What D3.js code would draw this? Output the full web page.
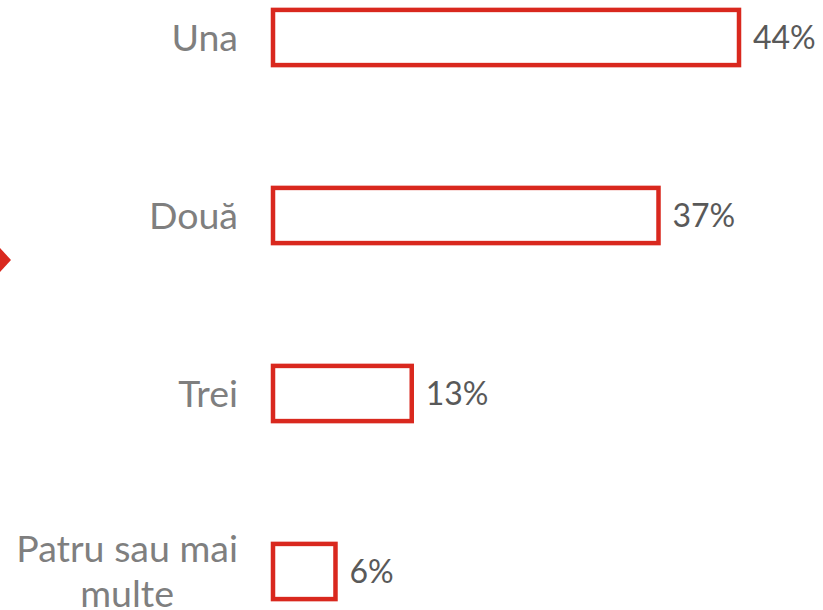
<!DOCTYPE html>
<html>
<head>
<meta charset="utf-8">
<script src="https://cdn.jsdelivr.net/npm/d3@7"></script>
<style>
  body { margin: 0; background: #fff; }
  svg { display: block; font-family: Lato, "Open Sans", sans-serif; }
</style>
</head>
<body>
<div id="chart"></div>
<script>
const categories = [["Una"], ["Două"], ["Trei"], ["Patru sau mai", "multe"]];
const values = [44, 36.4, 13.1, 5.9];
const valueLabels = ["44%", "37%", "13%", "6%"];

const width = 823, height = 610;
const red = "#d9281e";

let svg = d3.select("#chart")
    .append("svg")
    .attr("width", width)
    .attr("height", height);

let names = categories.map(c => c.join(" "));

let x = d3.scaleLinear()
    .domain([0, 44])
    .range([273, 739]);

let y = d3.scaleBand()
    .domain(names)
    .range([-51.5, -51.5 + 4 * 178])
    .paddingInner(0.69)
    .paddingOuter(0.345);

const data = names.map((n, i) => ({ name: n, lines: categories[i], value: values[i], label: valueLabels[i] }));

// small red marker cut off at the left edge
svg.append("path")
    .attr("d", "M-12,260 L0,248 L11,260 L0,272 Z")
    .attr("fill", red);

svg.selectAll("rect.bar")
    .data(data)
    .enter()
    .append("rect")
    .attr("class", "bar")
    .attr("x", x(0))
    .attr("y", d => y(d.name))
    .attr("width", d => x(d.value) - x(0))
    .attr("height", y.bandwidth())
    .attr("fill", "#fff")
    .attr("stroke", red)
    .attr("stroke-width", 4.5);

svg.selectAll("text.value")
    .data(data)
    .enter()
    .append("text")
    .attr("class", "value")
    .attr("x", d => x(d.value) + 14)
    .attr("y", d => y(d.name) + y.bandwidth() / 2)
    .attr("dy", "0.35em")
    .attr("font-size", 32)
    .attr("fill", "#595959")
    .text(d => d.label);

const labelRight = 238;
const lineHeight = 45;

data.forEach(d => {
    let g = svg.append("g").attr("class", "label");
    let cy = y(d.name) + y.bandwidth() / 2;
    let n = d.lines.length;
    let texts = d.lines.map((line, i) =>
        g.append("text")
            .attr("y", cy + (i - (n - 1) / 2) * lineHeight)
            .attr("dy", "0.35em")
            .attr("font-size", 37.5)
            .attr("fill", "#7f7f7f")
            .text(line)
    );
    let maxW = d3.max(texts, t => t.node().getComputedTextLength());
    texts.forEach(t => t.attr("x", labelRight - maxW / 2).attr("text-anchor", "middle"));
});
</script>
</body>
</html>
